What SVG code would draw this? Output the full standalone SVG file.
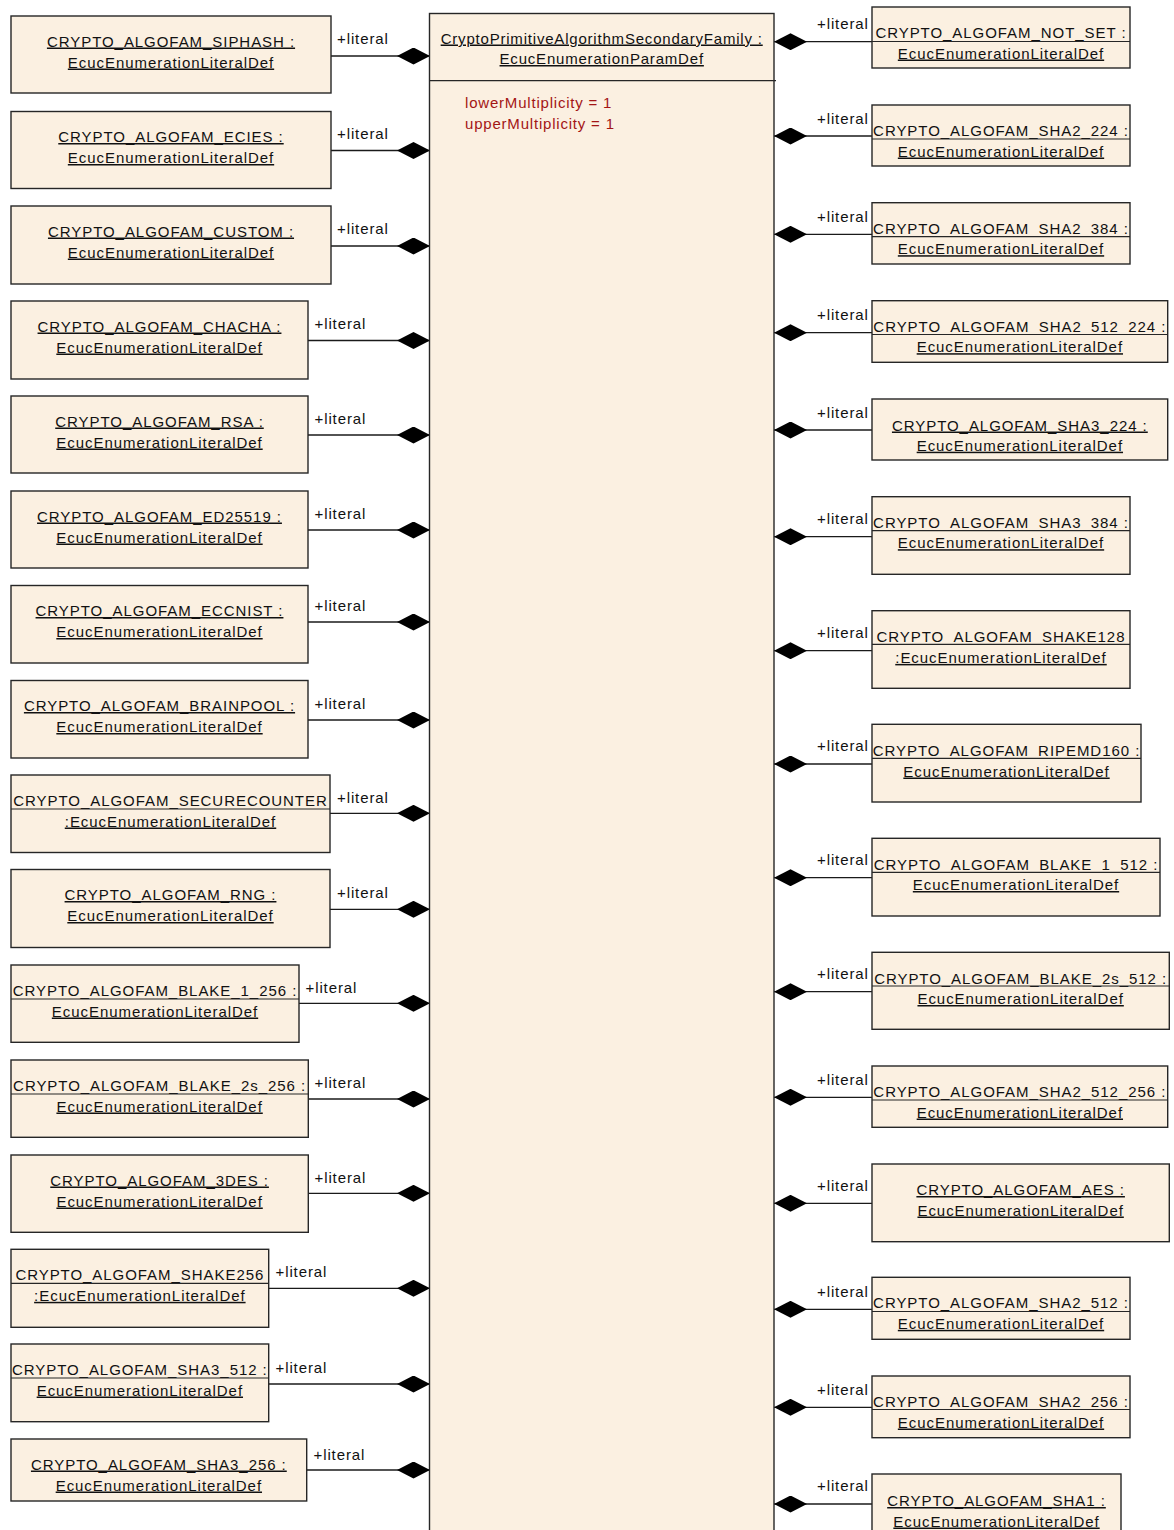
<svg xmlns="http://www.w3.org/2000/svg" width="1174" height="1530" viewBox="0 0 1174 1530">
<style>
.box{fill:#fbf0e1;stroke:#262626;stroke-width:1.4}
.t{font-family:"Liberation Sans",Arial,Helvetica,sans-serif;font-size:15px;letter-spacing:0.95px;fill:#111;text-anchor:middle}
.u{text-decoration:underline}
.ul{stroke:#262626;stroke-width:1.2}
.lbl{font-family:"Liberation Sans",Arial,Helvetica,sans-serif;font-size:15px;letter-spacing:0.9px;fill:#111}
.attr{font-family:"Liberation Sans",Arial,Helvetica,sans-serif;font-size:15px;letter-spacing:0.8px;fill:#a31515}
.conn{stroke:#1a1a1a;stroke-width:1.3;fill:none;marker-end:url(#dia)}
</style>
<defs>
<marker id="dia" viewBox="0 0 33 17" refX="33" refY="8.5" markerUnits="userSpaceOnUse" markerWidth="33" markerHeight="17" orient="auto">
<path d="M0,8.5 L16.5,0 L33,8.5 L16.5,17 Z" fill="#000"/>
</marker>
<clipPath id="c-l9"><rect x="11" y="775" width="319" height="77.5"/></clipPath>
<clipPath id="c-l11"><rect x="11" y="965" width="288" height="77.3"/></clipPath>
<clipPath id="c-l12"><rect x="11" y="1060" width="297.3" height="77.3"/></clipPath>
<clipPath id="c-l14"><rect x="11" y="1249.3" width="257.7" height="78"/></clipPath>
<clipPath id="c-l15"><rect x="11" y="1344" width="257.7" height="77.7"/></clipPath>
<clipPath id="c-r1"><rect x="872" y="7" width="258" height="61"/></clipPath>
<clipPath id="c-r2"><rect x="872" y="105" width="258" height="61"/></clipPath>
<clipPath id="c-r3"><rect x="872" y="202.7" width="258" height="61.3"/></clipPath>
<clipPath id="c-r4"><rect x="872" y="300.7" width="295.7" height="61.6"/></clipPath>
<clipPath id="c-r6"><rect x="872" y="496.7" width="258" height="77.6"/></clipPath>
<clipPath id="c-r7"><rect x="872" y="610.7" width="258" height="77.6"/></clipPath>
<clipPath id="c-r8"><rect x="872" y="724.3" width="269" height="77.7"/></clipPath>
<clipPath id="c-r9"><rect x="872" y="838.3" width="288" height="77.7"/></clipPath>
<clipPath id="c-r10"><rect x="872" y="952.3" width="297.3" height="77"/></clipPath>
<clipPath id="c-r11"><rect x="872" y="1066" width="295.7" height="61.3"/></clipPath>
<clipPath id="c-r13"><rect x="872" y="1277.3" width="258" height="62"/></clipPath>
<clipPath id="c-r14"><rect x="872" y="1376" width="258" height="61.7"/></clipPath>
</defs>

<rect width="1174" height="1530" fill="#fff"/>

<g id="connectors">
<path class="conn" d="M331,56 H430"/>
<path class="conn" d="M331,150.5 H430"/>
<path class="conn" d="M331,246 H430"/>
<path class="conn" d="M308,340.5 H430"/>
<path class="conn" d="M308,435 H430"/>
<path class="conn" d="M308,530 H430"/>
<path class="conn" d="M308,622 H430"/>
<path class="conn" d="M308,720 H430"/>
<path class="conn" d="M330,813.3 H430"/>
<path class="conn" d="M330,909.3 H430"/>
<path class="conn" d="M299,1003.3 H430"/>
<path class="conn" d="M308.3,1099 H430"/>
<path class="conn" d="M308.3,1193.3 H430"/>
<path class="conn" d="M268.7,1288.3 H430"/>
<path class="conn" d="M268.7,1384 H430"/>
<path class="conn" d="M306.7,1470 H430"/>
<path class="conn" d="M872,41.7 H774"/>
<path class="conn" d="M872,136 H774"/>
<path class="conn" d="M872,234.3 H774"/>
<path class="conn" d="M872,332.7 H774"/>
<path class="conn" d="M872,430 H774"/>
<path class="conn" d="M872,536.7 H774"/>
<path class="conn" d="M872,650.7 H774"/>
<path class="conn" d="M872,764 H774"/>
<path class="conn" d="M872,877.7 H774"/>
<path class="conn" d="M872,991.7 H774"/>
<path class="conn" d="M872,1097.3 H774"/>
<path class="conn" d="M872,1203.3 H774"/>
<path class="conn" d="M872,1309.3 H774"/>
<path class="conn" d="M872,1407.3 H774"/>
<path class="conn" d="M872,1504 H774"/>
<text class="lbl" x="337" y="44">+literal</text>
<text class="lbl" x="337" y="139">+literal</text>
<text class="lbl" x="337" y="234">+literal</text>
<text class="lbl" x="314.5" y="329">+literal</text>
<text class="lbl" x="314.5" y="424">+literal</text>
<text class="lbl" x="314.5" y="519">+literal</text>
<text class="lbl" x="314.5" y="611">+literal</text>
<text class="lbl" x="314.5" y="709">+literal</text>
<text class="lbl" x="337" y="802.5">+literal</text>
<text class="lbl" x="337" y="898">+literal</text>
<text class="lbl" x="305.5" y="993">+literal</text>
<text class="lbl" x="314.5" y="1088">+literal</text>
<text class="lbl" x="314.5" y="1182.5">+literal</text>
<text class="lbl" x="275.5" y="1277">+literal</text>
<text class="lbl" x="275.5" y="1373">+literal</text>
<text class="lbl" x="313.5" y="1459.5">+literal</text>
<text class="lbl" x="817" y="28.5">+literal</text>
<text class="lbl" x="817" y="123.5">+literal</text>
<text class="lbl" x="817" y="222">+literal</text>
<text class="lbl" x="817" y="320">+literal</text>
<text class="lbl" x="817" y="418">+literal</text>
<text class="lbl" x="817" y="524">+literal</text>
<text class="lbl" x="817" y="638">+literal</text>
<text class="lbl" x="817" y="751.3">+literal</text>
<text class="lbl" x="817" y="865">+literal</text>
<text class="lbl" x="817" y="979">+literal</text>
<text class="lbl" x="817" y="1084.6">+literal</text>
<text class="lbl" x="817" y="1190.6">+literal</text>
<text class="lbl" x="817" y="1296.6">+literal</text>
<text class="lbl" x="817" y="1394.6">+literal</text>
<text class="lbl" x="817" y="1491.3">+literal</text>
</g>

<g id="n-main">
<rect class="box" x="429.5" y="13.5" width="344.5" height="1530"/>
<line class="ul" x1="429.5" y1="80.7" x2="776" y2="80.7"/>
<text class="t u" x="601.7" y="43.5" style="letter-spacing:0.8px">CryptoPrimitiveAlgorithmSecondaryFamily :</text>
<text class="t u" x="601.7" y="64" style="letter-spacing:0.8px">EcucEnumerationParamDef</text>
<text class="attr" x="465" y="108.3">lowerMultiplicity = 1</text>
<text class="attr" x="465" y="129">upperMultiplicity = 1</text>
</g>

<g id="n-siphash">
<rect class="box" x="11" y="16" width="320" height="77"/>
<text class="t u" x="171" y="46.5">CRYPTO_ALGOFAM_SIPHASH :</text>
<text class="t u" x="171" y="67.5">EcucEnumerationLiteralDef</text>
</g>
<g id="n-ecies">
<rect class="box" x="11" y="111.5" width="320" height="77"/>
<text class="t u" x="171" y="142">CRYPTO_ALGOFAM_ECIES :</text>
<text class="t u" x="171" y="163">EcucEnumerationLiteralDef</text>
</g>
<g id="n-custom">
<rect class="box" x="11" y="206" width="320" height="78"/>
<text class="t u" x="171" y="236.5">CRYPTO_ALGOFAM_CUSTOM :</text>
<text class="t u" x="171" y="257.5">EcucEnumerationLiteralDef</text>
</g>
<g id="n-chacha">
<rect class="box" x="11" y="301" width="297" height="78"/>
<text class="t u" x="159.5" y="331.5">CRYPTO_ALGOFAM_CHACHA :</text>
<text class="t u" x="159.5" y="352.5">EcucEnumerationLiteralDef</text>
</g>
<g id="n-rsa">
<rect class="box" x="11" y="396" width="297" height="77"/>
<text class="t u" x="159.5" y="426.5">CRYPTO_ALGOFAM_RSA :</text>
<text class="t u" x="159.5" y="447.5">EcucEnumerationLiteralDef</text>
</g>
<g id="n-ed25519">
<rect class="box" x="11" y="491" width="297" height="77"/>
<text class="t u" x="159.5" y="521.5">CRYPTO_ALGOFAM_ED25519 :</text>
<text class="t u" x="159.5" y="542.5">EcucEnumerationLiteralDef</text>
</g>
<g id="n-eccnist">
<rect class="box" x="11" y="585.5" width="297" height="77.5"/>
<text class="t u" x="159.5" y="616">CRYPTO_ALGOFAM_ECCNIST :</text>
<text class="t u" x="159.5" y="637">EcucEnumerationLiteralDef</text>
</g>
<g id="n-brainpool">
<rect class="box" x="11" y="680.5" width="297" height="77.5"/>
<text class="t u" x="159.5" y="711">CRYPTO_ALGOFAM_BRAINPOOL :</text>
<text class="t u" x="159.5" y="732">EcucEnumerationLiteralDef</text>
</g>
<g id="n-securecounter">
<rect class="box" x="11" y="775" width="319" height="77.5"/>
<text class="t" x="170.5" y="806" clip-path="url(#c-l9)">CRYPTO_ALGOFAM_SECURECOUNTER</text>
<line class="ul" x1="11" y1="809" x2="330" y2="809"/>
<text class="t u" x="170.5" y="826.5">:EcucEnumerationLiteralDef</text>
</g>
<g id="n-rng">
<rect class="box" x="11" y="869.5" width="319" height="78"/>
<text class="t u" x="170.5" y="900">CRYPTO_ALGOFAM_RNG :</text>
<text class="t u" x="170.5" y="921">EcucEnumerationLiteralDef</text>
</g>
<g id="n-blake-1-256">
<rect class="box" x="11" y="965" width="288" height="77.3"/>
<text class="t" x="155" y="996" clip-path="url(#c-l11)">CRYPTO_ALGOFAM_BLAKE_1_256 :</text>
<line class="ul" x1="11" y1="999" x2="299" y2="999"/>
<text class="t u" x="155" y="1016.5">EcucEnumerationLiteralDef</text>
</g>
<g id="n-blake-2s-256">
<rect class="box" x="11" y="1060" width="297.3" height="77.3"/>
<text class="t" x="159.6" y="1091" clip-path="url(#c-l12)">CRYPTO_ALGOFAM_BLAKE_2s_256 :</text>
<line class="ul" x1="11" y1="1094" x2="308.3" y2="1094"/>
<text class="t u" x="159.6" y="1111.5">EcucEnumerationLiteralDef</text>
</g>
<g id="n-3des">
<rect class="box" x="11" y="1155" width="297.3" height="77.3"/>
<text class="t u" x="159.6" y="1185.5">CRYPTO_ALGOFAM_3DES :</text>
<text class="t u" x="159.6" y="1206.5">EcucEnumerationLiteralDef</text>
</g>
<g id="n-shake256">
<rect class="box" x="11" y="1249.3" width="257.7" height="78"/>
<text class="t" x="139.85" y="1280.3" clip-path="url(#c-l14)">CRYPTO_ALGOFAM_SHAKE256</text>
<line class="ul" x1="11" y1="1283.3" x2="268.7" y2="1283.3"/>
<text class="t u" x="139.85" y="1300.8">:EcucEnumerationLiteralDef</text>
</g>
<g id="n-sha3-512">
<rect class="box" x="11" y="1344" width="257.7" height="77.7"/>
<text class="t" x="139.85" y="1375" clip-path="url(#c-l15)">CRYPTO_ALGOFAM_SHA3_512 :</text>
<line class="ul" x1="11" y1="1378" x2="268.7" y2="1378"/>
<text class="t u" x="139.85" y="1395.5">EcucEnumerationLiteralDef</text>
</g>
<g id="n-sha3-256">
<rect class="box" x="11" y="1439" width="295.7" height="62"/>
<text class="t u" x="158.85" y="1469.5">CRYPTO_ALGOFAM_SHA3_256 :</text>
<text class="t u" x="158.85" y="1490.5">EcucEnumerationLiteralDef</text>
</g>

<g id="n-not-set">
<rect class="box" x="872" y="7" width="258" height="61"/>
<text class="t" x="1001" y="38" clip-path="url(#c-r1)">CRYPTO_ALGOFAM_NOT_SET :</text>
<line class="ul" x1="872" y1="41.5" x2="1130" y2="41.5"/>
<text class="t u" x="1001" y="58.5">EcucEnumerationLiteralDef</text>
</g>
<g id="n-sha2-224">
<rect class="box" x="872" y="105" width="258" height="61"/>
<text class="t" x="1001" y="136" clip-path="url(#c-r2)">CRYPTO_ALGOFAM_SHA2_224 :</text>
<line class="ul" x1="872" y1="139" x2="1130" y2="139"/>
<text class="t u" x="1001" y="156.5">EcucEnumerationLiteralDef</text>
</g>
<g id="n-sha2-384">
<rect class="box" x="872" y="202.7" width="258" height="61.3"/>
<text class="t" x="1001" y="233.7" clip-path="url(#c-r3)">CRYPTO_ALGOFAM_SHA2_384 :</text>
<line class="ul" x1="872" y1="236.7" x2="1130" y2="236.7"/>
<text class="t u" x="1001" y="254.2">EcucEnumerationLiteralDef</text>
</g>
<g id="n-sha2-512-224">
<rect class="box" x="872" y="300.7" width="295.7" height="61.6"/>
<text class="t" x="1019.85" y="331.7" clip-path="url(#c-r4)">CRYPTO_ALGOFAM_SHA2_512_224 :</text>
<line class="ul" x1="872" y1="334.5" x2="1167.7" y2="334.5"/>
<text class="t u" x="1019.85" y="352.2">EcucEnumerationLiteralDef</text>
</g>
<g id="n-sha3-224">
<rect class="box" x="872" y="399" width="295.7" height="61"/>
<text class="t u" x="1019.85" y="430.5">CRYPTO_ALGOFAM_SHA3_224 :</text>
<text class="t u" x="1019.85" y="450.7">EcucEnumerationLiteralDef</text>
</g>
<g id="n-sha3-384">
<rect class="box" x="872" y="496.7" width="258" height="77.6"/>
<text class="t" x="1001" y="528" clip-path="url(#c-r6)">CRYPTO_ALGOFAM_SHA3_384 :</text>
<line class="ul" x1="872" y1="530.7" x2="1130" y2="530.7"/>
<text class="t u" x="1001" y="548.2">EcucEnumerationLiteralDef</text>
</g>
<g id="n-shake128">
<rect class="box" x="872" y="610.7" width="258" height="77.6"/>
<text class="t" x="1001" y="641.7" clip-path="url(#c-r7)">CRYPTO_ALGOFAM_SHAKE128</text>
<line class="ul" x1="872" y1="644.3" x2="1130" y2="644.3"/>
<text class="t u" x="1001" y="662.9">:EcucEnumerationLiteralDef</text>
</g>
<g id="n-ripemd160">
<rect class="box" x="872" y="724.3" width="269" height="77.7"/>
<text class="t" x="1006.5" y="755.5" clip-path="url(#c-r8)">CRYPTO_ALGOFAM_RIPEMD160 :</text>
<line class="ul" x1="872" y1="758.3" x2="1141" y2="758.3"/>
<text class="t u" x="1006.5" y="776.5">EcucEnumerationLiteralDef</text>
</g>
<g id="n-blake-1-512">
<rect class="box" x="872" y="838.3" width="288" height="77.7"/>
<text class="t" x="1016" y="869.5" clip-path="url(#c-r9)">CRYPTO_ALGOFAM_BLAKE_1_512 :</text>
<line class="ul" x1="872" y1="872.3" x2="1160" y2="872.3"/>
<text class="t u" x="1016" y="890">EcucEnumerationLiteralDef</text>
</g>
<g id="n-blake-2s-512">
<rect class="box" x="872" y="952.3" width="297.3" height="77"/>
<text class="t" x="1020.65" y="983.5" clip-path="url(#c-r10)">CRYPTO_ALGOFAM_BLAKE_2s_512 :</text>
<line class="ul" x1="872" y1="986" x2="1169.3" y2="986"/>
<text class="t u" x="1020.65" y="1004">EcucEnumerationLiteralDef</text>
</g>
<g id="n-sha2-512-256">
<rect class="box" x="872" y="1066" width="295.7" height="61.3"/>
<text class="t" x="1019.85" y="1097" clip-path="url(#c-r11)">CRYPTO_ALGOFAM_SHA2_512_256 :</text>
<line class="ul" x1="872" y1="1100" x2="1167.7" y2="1100"/>
<text class="t u" x="1019.85" y="1117.5">EcucEnumerationLiteralDef</text>
</g>
<g id="n-aes">
<rect class="box" x="872" y="1164" width="297.3" height="77.7"/>
<text class="t u" x="1020.65" y="1195">CRYPTO_ALGOFAM_AES :</text>
<text class="t u" x="1020.65" y="1215.5">EcucEnumerationLiteralDef</text>
</g>
<g id="n-sha2-512">
<rect class="box" x="872" y="1277.3" width="258" height="62"/>
<text class="t" x="1001" y="1308.3" clip-path="url(#c-r13)">CRYPTO_ALGOFAM_SHA2_512 :</text>
<line class="ul" x1="872" y1="1311.5" x2="1130" y2="1311.5"/>
<text class="t u" x="1001" y="1328.8">EcucEnumerationLiteralDef</text>
</g>
<g id="n-sha2-256">
<rect class="box" x="872" y="1376" width="258" height="61.7"/>
<text class="t" x="1001" y="1407" clip-path="url(#c-r14)">CRYPTO_ALGOFAM_SHA2_256 :</text>
<line class="ul" x1="872" y1="1409.5" x2="1130" y2="1409.5"/>
<text class="t u" x="1001" y="1427.5">EcucEnumerationLiteralDef</text>
</g>
<g id="n-sha1">
<rect class="box" x="872" y="1474" width="249" height="80"/>
<text class="t u" x="996.5" y="1506">CRYPTO_ALGOFAM_SHA1 :</text>
<text class="t u" x="996.5" y="1526.5">EcucEnumerationLiteralDef</text>
</g>
</svg>
